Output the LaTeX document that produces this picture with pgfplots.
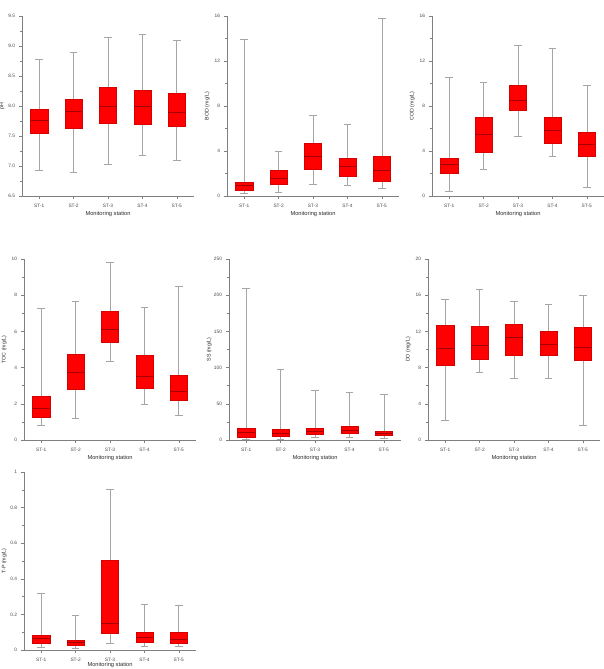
\documentclass[border=0pt]{standalone}
\usepackage{pgfplots}
\pgfplotsset{compat=1.18}
\usepgfplotslibrary{statistics}
\usepackage{fontspec}
\setmainfont{Liberation Sans}

\definecolor{axisgray}{RGB}{128,128,128}
\definecolor{whiskgray}{RGB}{165,165,165}
\definecolor{boxred}{RGB}{255,0,0}
\definecolor{boxedge}{RGB}{215,0,0}
\definecolor{medred}{RGB}{165,0,0}
\definecolor{txtgray}{RGB}{70,70,70}

\pgfplotsset{
  panel/.style={
    scale only axis,
    width=172pt, height=180pt,
    anchor=south west,
    axis lines=left,
    axis line style={-, axisgray, line width=0.6pt},
    xmin=0.5, xmax=5.5,
    xtick={1,2,3,4,5},
    xticklabels={ST-1,ST-2,ST-3,ST-4,ST-5},
    tick align=outside,
    major tick length=3pt,
    minor tick length=1.6pt,
    minor y tick num=1,
    every tick/.style={axisgray, line width=0.5pt},
    /pgf/number format/assume math mode=true,
    tick label style={font=\fontsize{4.8}{5}\selectfont, text=txtgray},
    xticklabel style={yshift=-1.5pt},
    yticklabel style={xshift=-0.5pt},
    xlabel={Monitoring station},
    xlabel style={font=\fontsize{5.7}{6.5}\selectfont, text=txtgray!60!black,
      at={(axis description cs:0.5,-0.1)}, anchor=center},
    ylabel style={font=\fontsize{5.3}{6}\selectfont, text=txtgray!60!black,
      at={(axis description cs:-0.115,0.5)}, anchor=center, rotate=0},
    boxplot/draw direction=y,
    boxplot/box extend=0.5,
    boxplot/whisker extend=0.22,
    boxplot/every box/.style={fill=boxred, draw=boxedge, line width=0.5pt},
    boxplot/every whisker/.style={draw=whiskgray, line width=0.6pt},
    boxplot/every median/.style={draw=medred, line width=0.5pt},
  },
  bx/.style n args={6}{boxplot prepared={draw position=#1,
      lower whisker=#2, lower quartile=#3, median=#4,
      upper quartile=#5, upper whisker=#6}},
}

\begin{document}
\begin{tikzpicture}
\useasboundingbox (0pt,0pt) rectangle (603pt,669pt);

% pH
\begin{axis}[panel, at={(22pt,473pt)},
  ymin=6.5, ymax=9.5, ytick={6.5,7,7.5,8,8.5,9,9.5},
  yticklabel style={/pgf/number format/.cd, fixed, fixed zerofill, precision=1},
  ylabel={pH}]
\addplot[bx={1}{6.92}{7.54}{7.76}{7.95}{8.78}] coordinates {};
\addplot[bx={2}{6.89}{7.63}{7.91}{8.12}{8.89}] coordinates {};
\addplot[bx={3}{7.02}{7.72}{8.00}{8.32}{9.14}] coordinates {};
\addplot[bx={4}{7.17}{7.69}{7.99}{8.27}{9.20}] coordinates {};
\addplot[bx={5}{7.09}{7.67}{7.89}{8.22}{9.09}] coordinates {};
\end{axis}

% BOD
\begin{axis}[panel, at={(227pt,473pt)},
  ymin=0, ymax=16, ytick={0,4,8,12,16},
  ylabel={BOD (mg/L)}]
\addplot[bx={1}{0.20}{0.50}{0.98}{1.25}{13.95}] coordinates {};
\addplot[bx={2}{0.33}{1.07}{1.58}{2.26}{3.96}] coordinates {};
\addplot[bx={3}{1.07}{2.41}{3.57}{4.67}{7.17}] coordinates {};
\addplot[bx={4}{0.98}{1.76}{2.62}{3.36}{6.37}] coordinates {};
\addplot[bx={5}{0.65}{1.34}{2.26}{3.57}{15.8}] coordinates {};
\end{axis}

% COD
\begin{axis}[panel, at={(432pt,473pt)},
  ymin=0, ymax=16, ytick={0,4,8,12,16},
  ylabel={COD (mg/L)}]
\addplot[bx={1}{0.39}{2.04}{2.81}{3.38}{10.58}] coordinates {};
\addplot[bx={2}{2.34}{3.91}{5.45}{7.02}{10.13}] coordinates {};
\addplot[bx={3}{5.30}{7.64}{8.53}{9.87}{13.42}] coordinates {};
\addplot[bx={4}{3.53}{4.68}{5.84}{7.02}{13.10}] coordinates {};
\addplot[bx={5}{0.74}{3.53}{4.59}{5.63}{9.87}] coordinates {};
\end{axis}

% TOC
\begin{axis}[panel, at={(24pt,229pt)}, height=181pt,
  ymin=0, ymax=10, ytick={0,2,4,6,8,10},
  ylabel={TOC (mg/L)}]
\addplot[bx={1}{0.79}{1.27}{1.75}{2.42}{7.25}] coordinates {};
\addplot[bx={2}{1.20}{2.80}{3.75}{4.72}{7.66}] coordinates {};
\addplot[bx={3}{4.34}{5.42}{6.14}{7.12}{9.80}] coordinates {};
\addplot[bx={4}{1.99}{2.86}{3.51}{4.69}{7.32}] coordinates {};
\addplot[bx={5}{1.38}{2.21}{2.69}{3.56}{8.50}] coordinates {};
\end{axis}

% SS
\begin{axis}[panel, at={(229pt,229pt)}, height=181pt,
  ymin=0, ymax=250, ytick={0,50,100,150,200,250},
  ylabel={SS (mg/L)}]
\addplot[bx={1}{1.4}{4.2}{10.6}{16.1}{209.4}] coordinates {};
\addplot[bx={2}{1.4}{4.6}{9.7}{14.3}{98.2}] coordinates {};
\addplot[bx={3}{3.7}{7.4}{12.0}{16.1}{69.2}] coordinates {};
\addplot[bx={4}{4.2}{8.8}{13.8}{18.9}{66.4}] coordinates {};
\addplot[bx={5}{2.8}{6.0}{9.2}{12.0}{62.7}] coordinates {};
\end{axis}

% DO
\begin{axis}[panel, at={(428pt,229pt)}, height=181pt,
  ymin=0, ymax=20, ytick={0,4,8,12,16,20},
  ylabel={DO (mg/L)}]
\addplot[bx={1}{2.14}{8.23}{10.15}{12.66}{15.50}] coordinates {};
\addplot[bx={2}{7.45}{8.89}{10.52}{12.55}{16.64}] coordinates {};
\addplot[bx={3}{6.83}{9.34}{11.37}{12.77}{15.28}] coordinates {};
\addplot[bx={4}{6.83}{9.41}{10.55}{12.07}{14.94}] coordinates {};
\addplot[bx={5}{1.59}{8.78}{10.30}{12.44}{15.98}] coordinates {};
\end{axis}

% TP
\begin{axis}[panel, at={(24pt,19pt)}, height=178pt,
  ymin=0, ymax=1, ytick={0,0.2,0.4,0.6,0.8,1},
  xlabel style={at={(axis description cs:0.5,-0.085)}},
  ylabel={T-P (mg/L)}]
\addplot[bx={1}{0.013}{0.039}{0.065}{0.084}{0.317}] coordinates {};
\addplot[bx={2}{0.011}{0.024}{0.041}{0.052}{0.194}] coordinates {};
\addplot[bx={3}{0.035}{0.093}{0.149}{0.507}{0.905}] coordinates {};
\addplot[bx={4}{0.019}{0.045}{0.069}{0.100}{0.257}] coordinates {};
\addplot[bx={5}{0.022}{0.039}{0.063}{0.100}{0.251}] coordinates {};
\end{axis}
\end{tikzpicture}
\end{document}
